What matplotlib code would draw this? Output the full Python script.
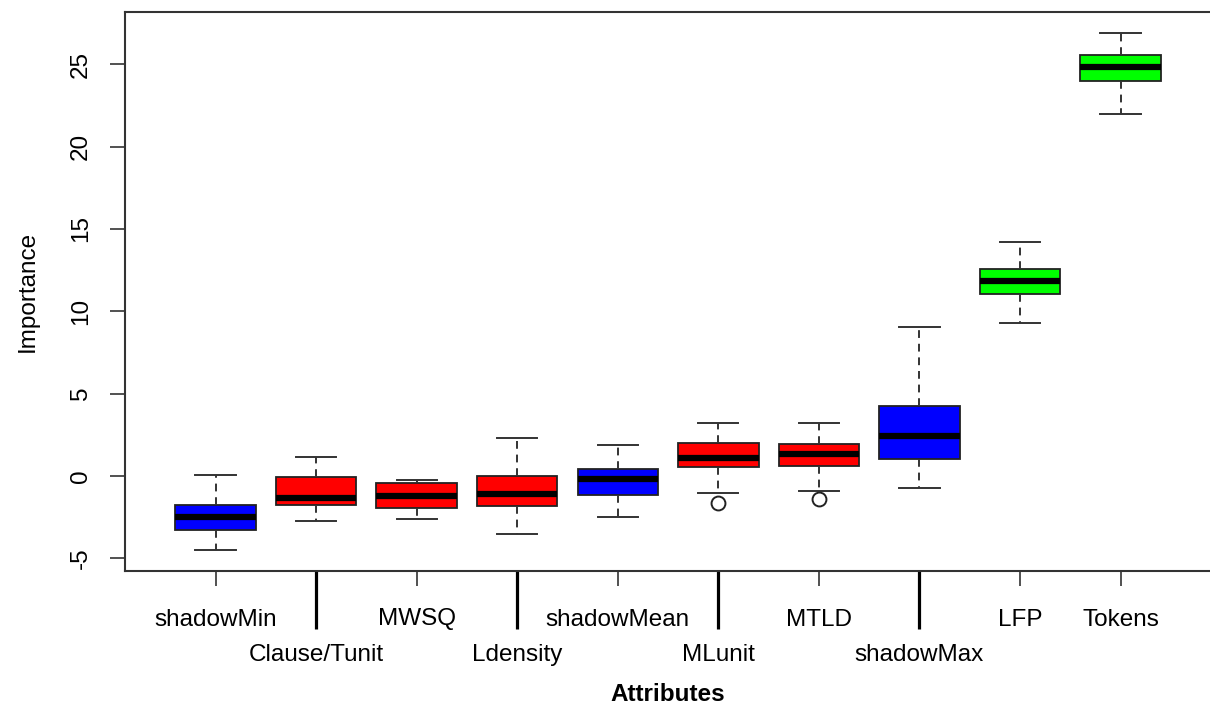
import matplotlib
matplotlib.use("Agg")
import matplotlib.pyplot as plt

plt.rcParams['font.family'] = ['Liberation Sans', 'DejaVu Sans']

attributes = ["shadowMin", "Clause/Tunit", "MWSQ", "Ldensity", "shadowMean",
              "MLunit", "MTLD", "shadowMax", "LFP", "Tokens"]
label_row = [1, 2, 1, 2, 1, 2, 1, 2, 1, 1]
whisker_low = [-4.50, -2.75, -2.63, -3.54, -2.49, -1.01, -0.91, -0.73, 9.29, 21.96]
q1 = [-3.26, -1.78, -1.92, -1.84, -1.14, 0.55, 0.59, 1.05, 11.07, 23.96]
median = [-2.50, -1.31, -1.19, -1.09, -0.21, 1.07, 1.34, 2.41, 11.84, 24.83]
q3 = [-1.74, -0.08, -0.45, -0.02, 0.40, 1.98, 1.92, 4.25, 12.57, 25.56]
whisker_high = [0.04, 1.17, -0.26, 2.31, 1.88, 3.22, 3.22, 9.07, 14.23, 26.92]
outliers = [[], [], [], [], [], [-1.66], [-1.42], [], [], []]
colors = ["#0000ff", "#ff0000", "#ff0000", "#ff0000", "#0000ff",
          "#ff0000", "#ff0000", "#0000ff", "#00ff00", "#00ff00"]
yticks = [-5, 0, 5, 10, 15, 20, 25]
long_ticks = [2, 4, 6, 8]

FS = 17.5
W, H = 1210, 706
fig = plt.figure(figsize=(W / 100, H / 100), dpi=100)
ax = fig.add_axes([125 / W, (H - 571) / H, 1 - 125 / W, (571 - 12) / H])

stats = []
for i in range(len(attributes)):
    stats.append(dict(med=median[i], q1=q1[i], q3=q3[i],
                      whislo=whisker_low[i], whishi=whisker_high[i],
                      fliers=outliers[i], label=attributes[i]))
positions = list(range(1, len(attributes) + 1))
bp = ax.bxp(stats, positions=positions, widths=0.8, patch_artist=True,
            showfliers=True,
            boxprops=dict(edgecolor="#222222", linewidth=1.3),
            medianprops=dict(color="black", linewidth=4.5, solid_capstyle="butt"),
            whiskerprops=dict(color="#333333", linewidth=1.4, linestyle=(0, (4, 3))),
            capprops=dict(color="#333333", linewidth=1.4),
            flierprops=dict(marker="o", markerfacecolor="none",
                            markeredgecolor="#222222", markersize=10,
                            markeredgewidth=1.4))
for patch, c in zip(bp['boxes'], colors):
    patch.set_facecolor(c)
for cap in bp['caps']:
    x0, x1 = cap.get_xdata()
    xc = (x0 + x1) / 2
    cap.set_xdata([xc - 0.2, xc + 0.2])

ax.set_xlim(0.1, 10.89)
ax.set_ylim(-5.77, 28.17)

ax.spines['right'].set_visible(False)
for s in ['top', 'bottom', 'left']:
    ax.spines[s].set_color("#333333")
    ax.spines[s].set_linewidth(1.5)

ax.set_yticks(yticks)
ax.set_yticklabels([str(v) for v in yticks], rotation=90, va='center', fontsize=FS)
ax.tick_params(axis='y', length=11, width=1.2, color="#333333", pad=13)

ax.xaxis.remove_overlapping_locs = False
ax.set_xticks(positions)
ax.set_xticklabels(attributes, fontsize=FS)
ax.tick_params(axis='x', which='major', length=11, width=1.2, color="#333333")
for t, r in zip(ax.xaxis.get_major_ticks(), label_row):
    t.set_pad(16 if r == 1 else 41.5)

ax.set_xticks(long_ticks, minor=True)
ax.tick_params(axis='x', which='minor', length=42, width=2.3, color="black",
               labelbottom=False)

ax.set_ylabel("Importance", fontsize=FS, labelpad=22)
ax.set_xlabel("Attributes", fontsize=FS, fontweight='bold', labelpad=12.5)

fig.savefig("out.png", dpi=100)
